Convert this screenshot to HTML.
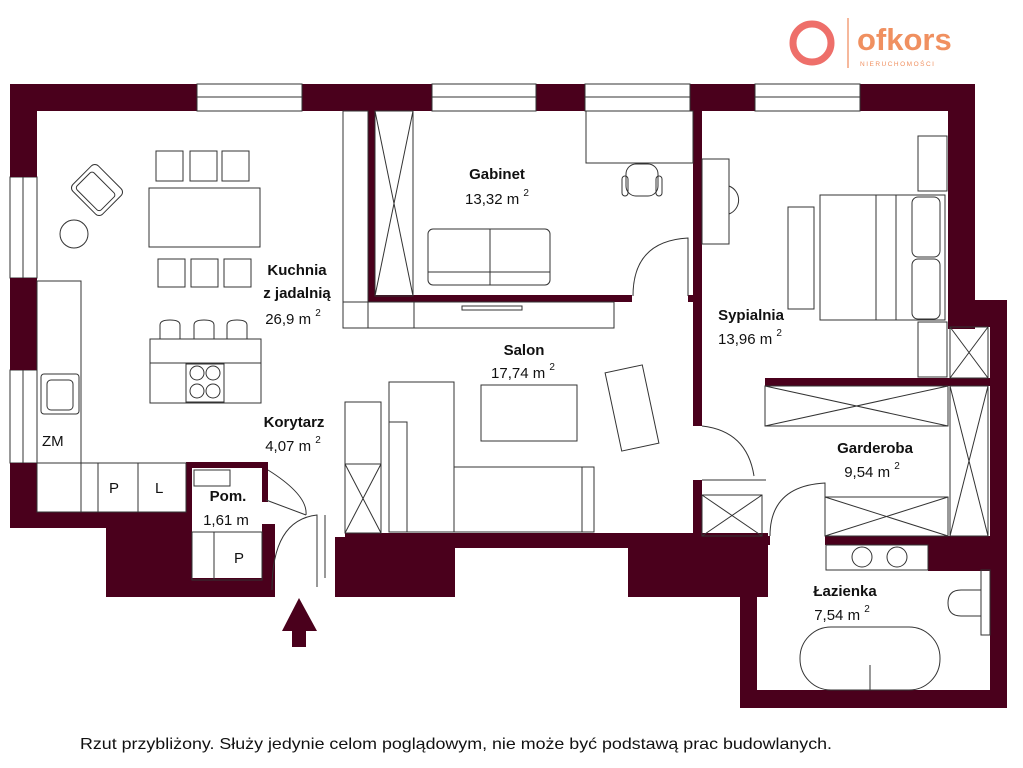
<!DOCTYPE html>
<html><head><meta charset="utf-8"><style>
html,body{margin:0;padding:0;background:#fff;}
svg{display:block;font-family:"Liberation Sans",sans-serif;}
.w{fill:#4a001c;}
.f{fill:#fff;stroke:#333;stroke-width:1;}
.l{fill:none;stroke:#333;stroke-width:1;}
.t{font-size:15px;fill:#111;}
.b{font-weight:bold;}
</style></head><body>
<svg width="1023" height="768" viewBox="0 0 1023 768" xmlns="http://www.w3.org/2000/svg">
<!-- logo -->
<circle cx="812" cy="43" r="19" fill="none" stroke="#ee6f6a" stroke-width="7"/>
<line x1="848" y1="18" x2="848" y2="68" stroke="#f2a07a" stroke-width="1.5"/>
<text x="857" y="50" font-size="31" fill="#f09060" font-weight="bold">ofkors</text>
<text x="860" y="66" font-size="6.5" fill="#f09060" letter-spacing="1.5">NIERUCHOMOŚCI</text>

<!-- outer walls -->
<rect class="w" x="10" y="84" width="187" height="27"/>
<rect class="w" x="302" y="84" width="130" height="27"/>
<rect class="w" x="536" y="84" width="49" height="27"/>
<rect class="w" x="690" y="84" width="65" height="27"/>
<rect class="w" x="860" y="84" width="115" height="27"/>
<g class="l"><rect x="197" y="84" width="105" height="27"/><line x1="197" y1="97" x2="302" y2="97"/>
<rect x="432" y="84" width="104" height="27"/><line x1="432" y1="97" x2="536" y2="97"/>
<rect x="585" y="84" width="105" height="27"/><line x1="585" y1="97" x2="690" y2="97"/>
<rect x="755" y="84" width="105" height="27"/><line x1="755" y1="97" x2="860" y2="97"/>
<rect x="10" y="177" width="27" height="101"/><line x1="23" y1="177" x2="23" y2="278"/>
<rect x="10" y="370" width="27" height="93"/><line x1="23" y1="370" x2="23" y2="463"/></g>
<rect class="w" x="10" y="84" width="27" height="93"/>
<rect class="w" x="10" y="278" width="27" height="92"/>
<rect class="w" x="10" y="463" width="27" height="65"/>
<rect class="w" x="10" y="512" width="176" height="16"/>
<rect class="w" x="106" y="524" width="169" height="73"/>
<rect class="w" x="186" y="462" width="82" height="8"/>
<rect class="w" x="186" y="462" width="6" height="70"/>
<rect class="w" x="262" y="462" width="6" height="40"/>
<rect class="w" x="262" y="530" width="13" height="67"/>
<rect class="w" x="335" y="537" width="120" height="60"/>
<rect class="w" x="345" y="533" width="423" height="15"/>
<rect class="w" x="628" y="533" width="140" height="64"/>
<rect class="w" x="740" y="533" width="17" height="175"/>
<rect class="w" x="740" y="690" width="267" height="18"/>
<rect class="w" x="990" y="300" width="17" height="408"/>
<rect class="w" x="948" y="84" width="27" height="245"/>
<rect class="w" x="948" y="300" width="59" height="27"/>
<rect class="w" x="757" y="536" width="13" height="9"/>
<rect class="w" x="825" y="536" width="170" height="9"/>
<rect class="w" x="928" y="536" width="62" height="35"/>
<!-- interior walls -->
<rect class="w" x="368" y="111" width="7" height="191"/>
<rect class="w" x="368" y="295" width="264" height="7"/>
<rect class="w" x="688" y="295" width="9" height="7"/>
<rect class="w" x="693" y="111" width="9" height="315"/>
<rect class="w" x="693" y="480" width="9" height="56"/>
<rect class="w" x="765" y="378" width="225" height="8"/>

<!-- pom room interior -->
<rect x="192" y="468" width="70" height="110" fill="#fff"/>

<!-- kitchen -->
<g class="l">
<rect x="37" y="281" width="44" height="231"/><line x1="37" y1="463" x2="81" y2="463"/>
<rect x="41" y="374" width="38" height="40" rx="3"/><rect x="47" y="380" width="26" height="30" rx="4"/>
<rect x="37" y="463" width="149" height="49"/><line x1="98" y1="463" x2="98" y2="512"/><line x1="138" y1="463" x2="138" y2="512"/>
<rect x="149" y="188" width="111" height="59"/>
<rect x="156" y="151" width="27" height="30"/><rect x="190" y="151" width="27" height="30"/><rect x="222" y="151" width="27" height="30"/>
<rect x="158" y="259" width="27" height="28"/><rect x="191" y="259" width="27" height="28"/><rect x="224" y="259" width="27" height="28"/>
<rect x="150" y="339" width="111" height="64"/><line x1="150" y1="363" x2="261" y2="363"/>
<rect x="186" y="364" width="38" height="38"/>
<circle cx="197" cy="373" r="7"/><circle cx="213" cy="373" r="7"/><circle cx="197" cy="391" r="7"/><circle cx="213" cy="391" r="7"/>
<path d="M160 339 v-14 q0-5 10-5 q10 0 10 5 v14 M194 339 v-14 q0-5 10-5 q10 0 10 5 v14 M227 339 v-14 q0-5 10-5 q10 0 10 5 v14"/>
<g transform="rotate(45 97 190)"><rect x="76" y="172" width="42" height="36" rx="5"/><rect x="80" y="180" width="34" height="24" rx="3"/></g>
<circle cx="74" cy="234" r="14"/>
</g>
<text class="t" x="42" y="446">ZM</text>
<text class="t" x="109" y="493">P</text><text class="t" x="155" y="493">L</text>

<!-- pom -->
<g class="l"><rect x="192" y="532" width="70" height="48"/><line x1="214" y1="532" x2="214" y2="580"/>
<rect x="194" y="470" width="36" height="16"/>
<path d="M268 470 q40 25 38 45 M266 500 l40 15"/><path d="M272 590 q0-70 45-75 v72"/>
<line x1="317" y1="515" x2="317" y2="578"/><line x1="325" y1="515" x2="325" y2="578"/>
</g>
<text class="t" x="234" y="563">P</text>

<!-- korytarz wardrobe -->
<g class="l"><rect x="345" y="402" width="36" height="131"/><line x1="345" y1="464" x2="381" y2="464"/>
<line x1="345" y1="464" x2="381" y2="533"/><line x1="381" y1="464" x2="345" y2="533"/>
<!-- salon -->
<rect x="343" y="111" width="25" height="217"/><rect x="343" y="302" width="71" height="26"/><rect x="414" y="302" width="200" height="26"/>
<rect x="462" y="306" width="60" height="4"/>
<rect x="389" y="382" width="65" height="150"/><rect x="389" y="422" width="18" height="110"/>
<rect x="454" y="467" width="128" height="65"/><rect x="582" y="467" width="12" height="65"/>
<rect x="481" y="385" width="96" height="56"/>
<g transform="rotate(-12 632 408)"><rect x="613" y="368" width="38" height="80"/></g>
<!-- gabinet -->
<rect x="375" y="111" width="38" height="185"/><line x1="375" y1="111" x2="413" y2="296"/><line x1="413" y1="111" x2="375" y2="296"/>
<rect x="586" y="111" width="107" height="52"/>
<rect x="626" y="164" width="32" height="32" rx="10"/><rect x="622" y="176" width="6" height="20" rx="3"/><rect x="656" y="176" width="6" height="20" rx="3"/>
<rect x="428" y="229" width="122" height="56" rx="5"/><line x1="490" y1="229" x2="490" y2="285"/><line x1="428" y1="272" x2="550" y2="272"/>
<path d="M633 296 q0-55 55-58 v58"/><line x1="688" y1="238" x2="688" y2="296"/>
<!-- sypialnia -->
<rect x="702" y="159" width="27" height="85"/><path d="M729 186 a15 15 0 0 1 0 28"/>
<rect x="788" y="207" width="26" height="102"/>
<rect x="820" y="195" width="125" height="125"/><line x1="876" y1="195" x2="876" y2="320"/><line x1="896" y1="195" x2="896" y2="320"/>
<rect x="912" y="197" width="28" height="60" rx="6"/><rect x="912" y="259" width="28" height="60" rx="6"/>
<rect x="918" y="136" width="29" height="55"/><rect x="918" y="322" width="29" height="55"/>
<rect x="950" y="327" width="38" height="51"/><line x1="950" y1="327" x2="988" y2="378"/><line x1="988" y1="327" x2="950" y2="378"/>
<!-- garderoba -->
<rect x="765" y="386" width="183" height="40"/><line x1="765" y1="386" x2="948" y2="426"/><line x1="948" y1="386" x2="765" y2="426"/>
<rect x="950" y="386" width="38" height="150"/><line x1="950" y1="386" x2="988" y2="536"/><line x1="988" y1="386" x2="950" y2="536"/>
<rect x="825" y="497" width="123" height="39"/><line x1="825" y1="497" x2="948" y2="536"/><line x1="948" y1="497" x2="825" y2="536"/>
<rect x="702" y="495" width="60" height="41"/><line x1="702" y1="495" x2="762" y2="536"/><line x1="762" y1="495" x2="702" y2="536"/>
<path d="M702 426 q45 5 52 50 M702 480 h64"/><path d="M770 536 q0-50 55-53 v53"/>
<!-- bathroom -->
<rect x="826" y="545" width="102" height="25"/><circle cx="862" cy="557" r="10"/><circle cx="897" cy="557" r="10"/>
<rect x="981" y="570" width="9" height="65"/><path d="M981 590 h-20 q-13 0-13 13 q0 13 13 13 h20"/>
<rect x="800" y="627" width="140" height="63" rx="31"/><line x1="870" y1="665" x2="870" y2="690"/>
</g>

<!-- arrow -->
<path d="M282 631 L299 598 L317 631 Z M292 630 h14 v17 h-14 Z" fill="#4a001c"/>

<!-- labels -->
<g class="t" text-anchor="middle">
<text x="297" y="275" class="b">Kuchnia</text><text x="297" y="298" class="b">z jadalnią</text><text x="293" y="324">26,9 m <tspan font-size="10" dy="-8">2</tspan></text>
<text x="497" y="179" class="b">Gabinet</text><text x="497" y="204">13,32 m <tspan font-size="10" dy="-8">2</tspan></text>
<text x="524" y="355" class="b">Salon</text><text x="523" y="378">17,74 m <tspan font-size="10" dy="-8">2</tspan></text>
<text x="751" y="320" class="b">Sypialnia</text><text x="750" y="344">13,96 m <tspan font-size="10" dy="-8">2</tspan></text>
<text x="294" y="427" class="b">Korytarz</text><text x="293" y="451">4,07 m <tspan font-size="10" dy="-8">2</tspan></text>
<text x="228" y="501" class="b">Pom.</text><text x="226" y="525">1,61 m</text>
<text x="875" y="453" class="b">Garderoba</text><text x="872" y="477">9,54 m <tspan font-size="10" dy="-8">2</tspan></text>
<text x="845" y="596" class="b">Łazienka</text><text x="842" y="620">7,54 m <tspan font-size="10" dy="-8">2</tspan></text>
</g>
<text x="80" y="749" font-size="16" fill="#111" textLength="752" lengthAdjust="spacingAndGlyphs">Rzut przybliżony. Służy jedynie celom poglądowym, nie może być podstawą prac budowlanych.</text>
</svg>
</body></html>
